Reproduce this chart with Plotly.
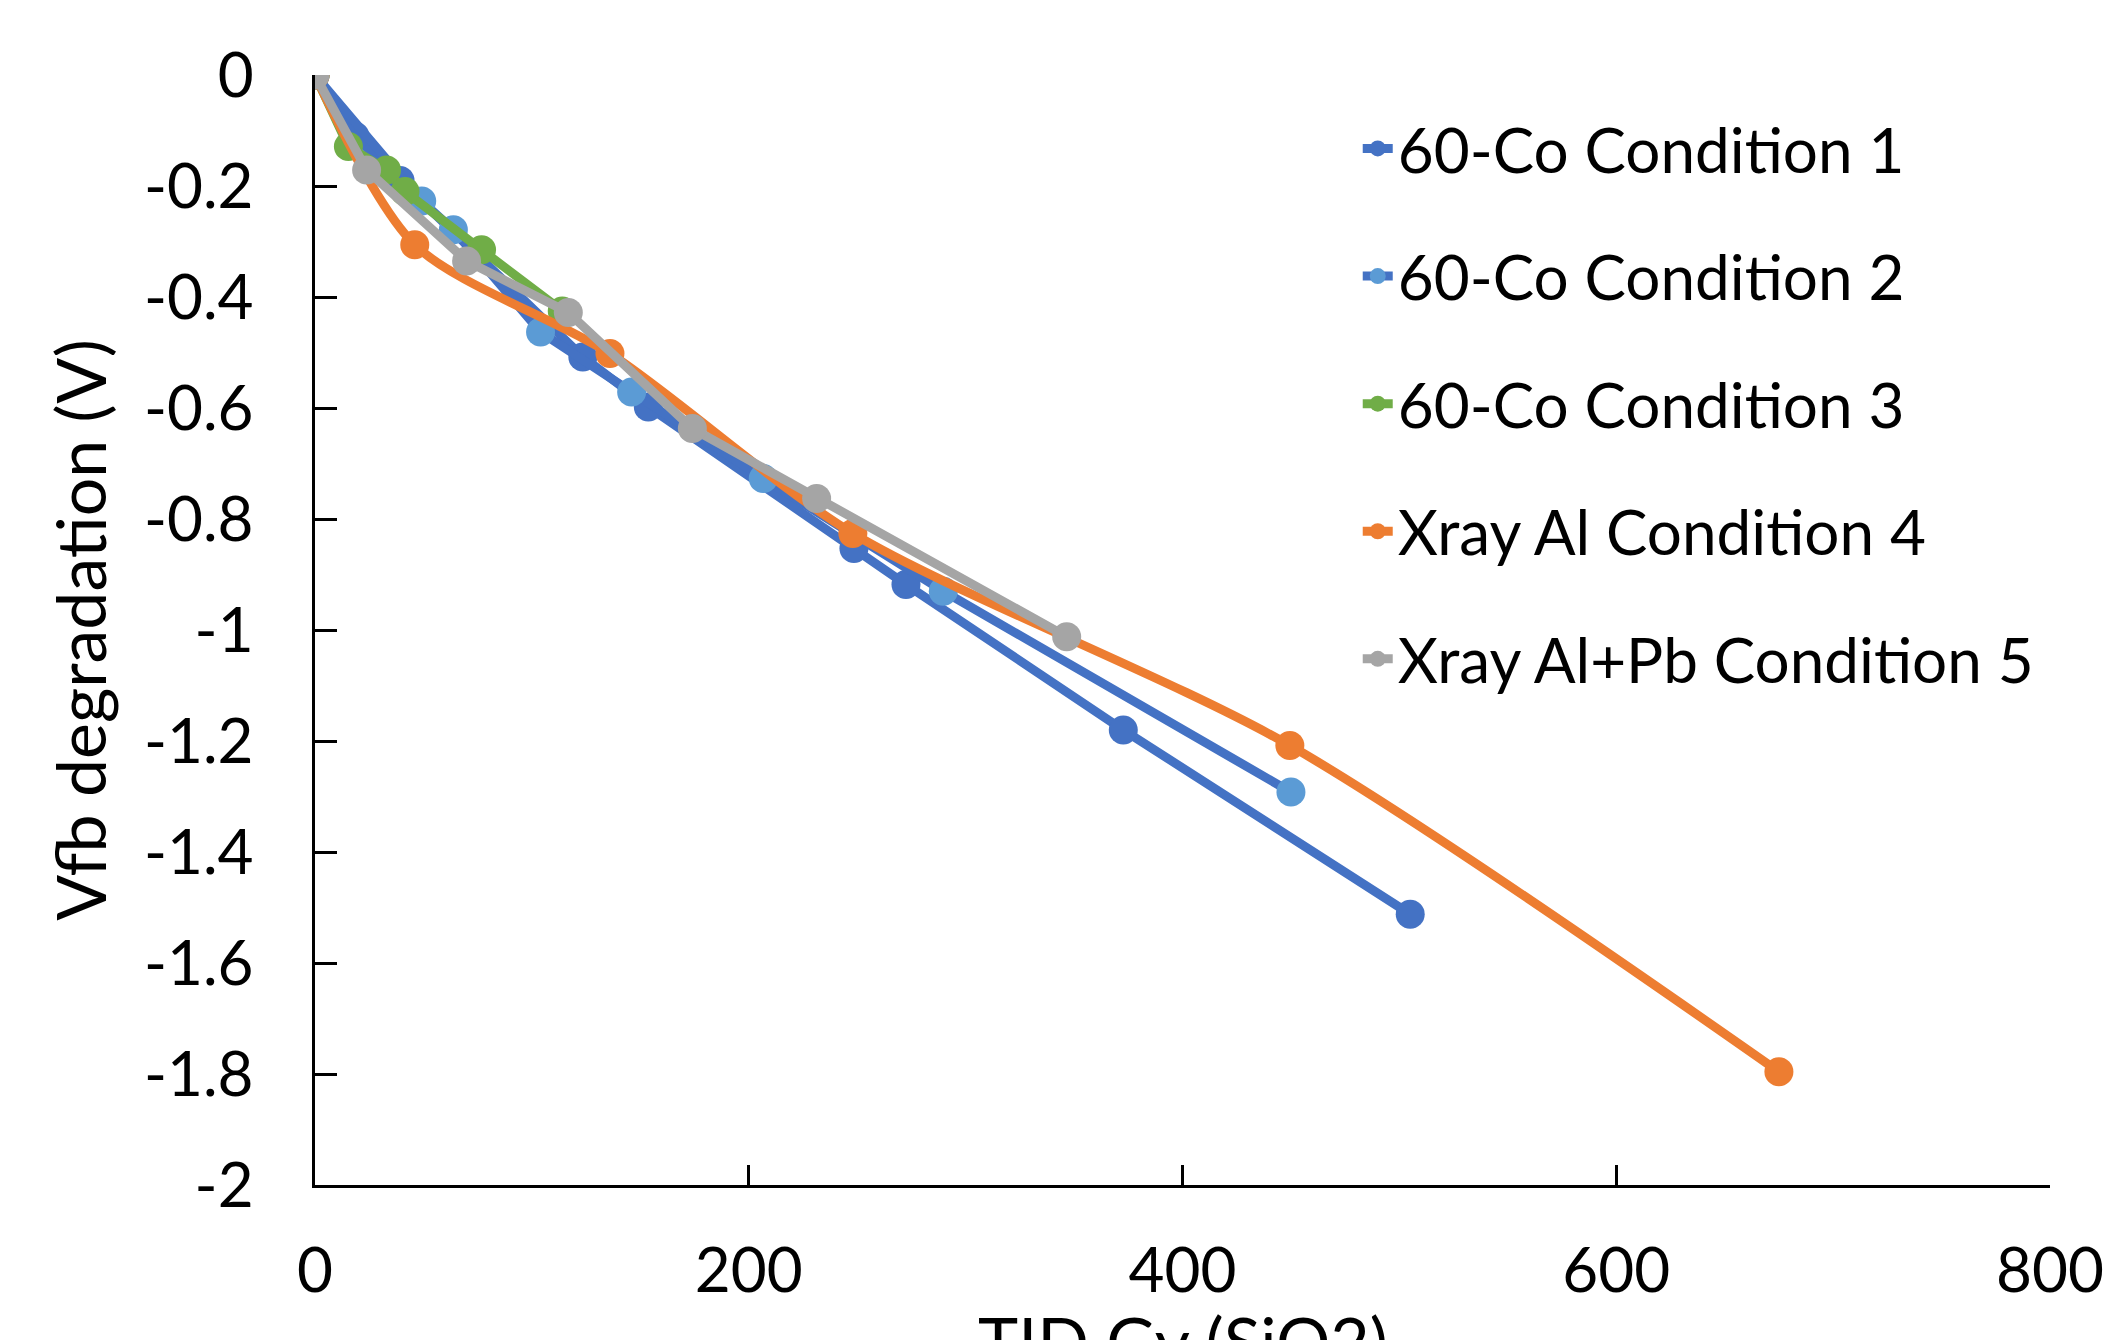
import plotly.graph_objects as go

# ---- data ----
c1_x = [0, 18.4, 39.2, 123.5, 153.7, 248.5, 272.5, 372.7, 505]
c1_y = [0, -0.11, -0.19, -0.508, -0.598, -0.853, -0.918, -1.18, -1.512]

c2_x = [0, 49.2, 63.8, 104.0, 146.0, 206.7, 289.7, 450]
c2_y = [0, -0.227, -0.279, -0.463, -0.571, -0.727, -0.930, -1.292]

c3_x = [0, 15.4, 33.0, 41.5, 76.8, 114]
c3_y = [0, -0.129, -0.171, -0.210, -0.315, -0.425]

c4_x = [0, 46.0, 136.0, 248.0, 449.5, 675]
c4_y = [0, -0.306, -0.502, -0.826, -1.208, -1.796]

c5_x = [0, 23.8, 69.9, 116.8, 174.0, 231.3, 346.6]
c5_y = [0, -0.171, -0.335, -0.428, -0.637, -0.763, -1.012]

names = ["60-Co Condition 1", "60-Co Condition 2", "60-Co Condition 3",
         "Xray Al Condition 4", "Xray Al+Pb Condition 5"]

x_ticks = [0, 200, 400, 600, 800]
y_ticks = [0, -0.2, -0.4, -0.6, -0.8, -1, -1.2, -1.4, -1.6, -1.8, -2]
y_ticktext = ["0", "-0.2", "-0.4", "-0.6", "-0.8", "-1", "-1.2", "-1.4", "-1.6", "-1.8", "-2"]

x_title = "TID Gy (SiO2)"
y_title = "Vfb degradation (V)"

FONT = "Lato"
FS = 62
TFS = 68

series = [
    (c1_x, c1_y, "#4472C4", "#4472C4", "linear"),
    (c2_x, c2_y, "#4472C4", "#5B9BD5", "linear"),
    (c3_x, c3_y, "#70AD47", "#70AD47", "linear"),
    (c4_x, c4_y, "#ED7D31", "#ED7D31", "spline"),
    (c5_x, c5_y, "#A5A5A5", "#A5A5A5", "linear"),
]

fig = go.Figure()
for i, (xs, ys, lc, mc, shape) in enumerate(series):
    fig.add_trace(go.Scatter(
        x=xs, y=ys, name=names[i], mode="lines+markers",
        line=dict(color=lc, width=9, shape=shape, smoothing=0.8),
        marker=dict(color=mc, size=29),
        legendgroup=f"g{i}",
    ))

fig.update_layout(
    width=2115, height=1340,
    paper_bgcolor="white", plot_bgcolor="white",
    margin=dict(l=307, r=73, t=67, b=163, autoexpand=False),
    font=dict(family=FONT, size=FS, color="black"),
    showlegend=True,
    legend=dict(
        x=0.601, y=0.976, xanchor="left", yanchor="top",
        font=dict(family=FONT, size=FS, color="black"),
        tracegroupgap=44, bgcolor="rgba(0,0,0,0)",
        itemwidth=30,
    ),
    xaxis=dict(
        range=[0, 800], tickvals=x_ticks,
        showgrid=False, zeroline=False,
        showline=True, linecolor="black", linewidth=3,
        ticks="inside", ticklen=20, tickwidth=3, tickcolor="black",
        ticklabelstandoff=30,
        tickfont=dict(family=FONT, size=FS, color="black"),
        automargin=False,
    ),
    yaxis=dict(
        range=[-2, 0], tickvals=y_ticks, ticktext=y_ticktext,
        showgrid=False, zeroline=False,
        showline=True, linecolor="black", linewidth=3,
        ticks="inside", ticklen=22, tickwidth=3, tickcolor="black",
        ticklabelstandoff=46,
        tickfont=dict(family=FONT, size=FS, color="black"),
        title=dict(text=y_title, font=dict(family=FONT, size=TFS, color="black"),
                   standoff=16),
        automargin=False,
    ),
    annotations=[dict(
        text=x_title, xref="paper", yref="paper", x=0.5, y=-0.14,
        xanchor="center", yanchor="middle", showarrow=False,
        font=dict(family=FONT, size=TFS, color="black"),
    )],
)

fig.write_html("out.html")
